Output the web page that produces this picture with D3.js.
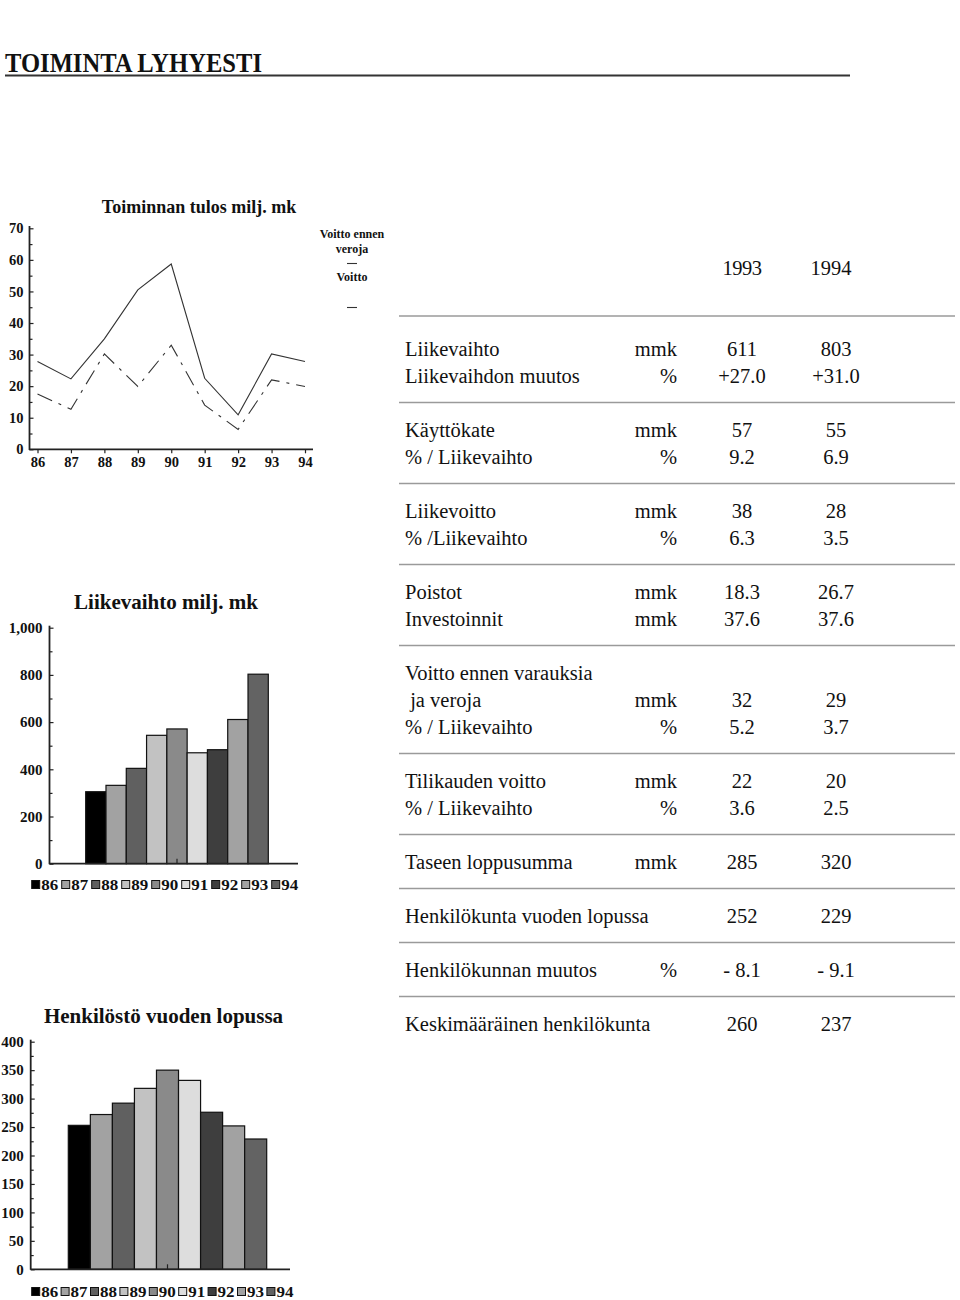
<!DOCTYPE html>
<html><head><meta charset="utf-8">
<script src="https://cdn.jsdelivr.net/npm/d3@7/dist/d3.min.js"></script>
<style>
body{margin:0;background:#fff}
svg text{font-family:"Liberation Serif","Times New Roman",serif;fill:#111}
</style>
</head><body>
<svg id="c" width="960" height="1300"></svg>
<script>
// ---------- data ----------
const years = ["86","87","88","89","90","91","92","93","94"];
const voittoEnnenVeroja = [27.8,22.3,35.0,50.5,58.7,22.5,10.9,30.2,27.8];
const voitto = [17.5,12.7,30.2,19.9,33.0,14.0,6.3,22.0,19.9];
const lineTicks = [0,10,20,30,40,50,60,70];
const lineMinorTicks = [5,15,25,35,45,55,65];
const lineLegend = ["Voitto ennen|veroja","Voitto"];

const liikevaihto = [305,332,404,544,571,470,483,611,803];
const liikevaihtoTicks = [0,200,400,600,800,1000];
const liikevaihtoMinor = [100,300,500,700,900];

const henkilosto = [253,272,292,318,350,332,276,252,229];
const henkilostoTicks = [0,50,100,150,200,250,300,350,400];
const henkilostoMinor = [25,75,125,175,225,275,325,375];

const barColors = ["#000000","#a2a2a2","#606060","#c2c2c2","#8a8a8a","#dddddd","#3e3e3e","#a2a2a2","#636363"];

const tableYears = ["1993","1994"];
const rowLabels = ["Liikevaihto","Liikevaihdon muutos","Käyttökate","% / Liikevaihto","Liikevoitto","% /Liikevaihto",
  "Poistot","Investoinnit","Voitto ennen varauksia"," ja veroja","% / Liikevaihto","Tilikauden voitto","% / Liikevaihto",
  "Taseen loppusumma","Henkilökunta vuoden lopussa","Henkilökunnan muutos","Keskimääräinen henkilökunta"];
const rowUnits = ["mmk","%","mmk","%","mmk","%","mmk","mmk","","mmk","%","mmk","%","mmk","","%",""];
const values1993 = ["611","+27.0","57","9.2","38","6.3","18.3","37.6","","32","5.2","22","3.6","285","252","- 8.1","260"];
const values1994 = ["803","+31.0","55","6.9","28","3.5","26.7","37.6","","29","3.7","20","2.5","320","229","- 9.1","237"];
const rowGroups = [0,0,1,1,2,2,3,3,4,4,4,5,5,6,7,8,9];

// ---------- drawing ----------
const svg = d3.select("#c");
const AX = "#222";
const DASH = "16,7,3,7";

// page title
svg.append("text").attr("x",5).attr("y",72).attr("font-size",27).attr("font-weight","bold")
  .attr("textLength",257).attr("lengthAdjust","spacingAndGlyphs").text("TOIMINTA LYHYESTI");
svg.append("line").attr("x1",5).attr("x2",850).attr("y1",75.5).attr("y2",75.5)
  .attr("stroke","#333").attr("stroke-width",2);

// ===== line chart =====
{
  const g = svg.append("g");
  const x = d3.scalePoint().domain(years).range([37.5,305]);
  const y = d3.scaleLinear().domain([0,70]).range([449.3,228.3]);
  g.append("text").attr("x",199).attr("y",213).attr("text-anchor","middle")
    .attr("font-size",18).attr("font-weight","bold").text("Toiminnan tulos milj. mk");
  const ya = g.append("g").attr("transform","translate(29.5,0)")
    .call(d3.axisLeft(y).tickValues(lineTicks).tickSize(-4).tickPadding(6));
  const yam = g.append("g").attr("transform","translate(29.5,0)")
    .call(d3.axisLeft(y).tickValues(lineMinorTicks).tickSize(-3).tickFormat(""));
  const xa = g.append("g").attr("transform","translate(0,449.3)")
    .call(d3.axisBottom(x).tickSize(4).tickPadding(3));
  [ya,yam,xa].forEach(a=>{a.select(".domain").remove();
    a.selectAll("line").attr("stroke",AX).attr("stroke-width",1.2);
    a.selectAll("text").attr("font-size",14.5).attr("font-weight","bold")
      .attr("font-family","Liberation Serif, serif").attr("fill","#111");});
  g.append("line").attr("x1",29.5).attr("x2",29.5).attr("y1",226).attr("y2",450).attr("stroke",AX).attr("stroke-width",1.8);
  g.append("line").attr("x1",29).attr("x2",313).attr("y1",449.3).attr("y2",449.3).attr("stroke",AX).attr("stroke-width",1.8);
  const line = d3.line().x((d,i)=>x(years[i])).y(d=>y(d));
  g.append("path").attr("d",line(voittoEnnenVeroja)).attr("fill","none").attr("stroke","#333").attr("stroke-width",1.1);
  g.append("path").attr("d",line(voitto)).attr("fill","none").attr("stroke","#333").attr("stroke-width",1.1)
    .attr("stroke-dasharray",DASH);
  // legend
  const lg = svg.append("g").attr("font-size",12).attr("font-weight","bold").attr("text-anchor","middle");
  const l1 = lineLegend[0].split("|");
  lg.append("text").attr("x",352).attr("y",238).text(l1[0]);
  lg.append("text").attr("x",352).attr("y",253).text(l1[1]);
  lg.append("line").attr("x1",347).attr("x2",357).attr("y1",263.5).attr("y2",263.5).attr("stroke","#333").attr("stroke-width",1.1);
  lg.append("text").attr("x",352).attr("y",281).text(lineLegend[1]);
  lg.append("line").attr("x1",347).attr("x2",357).attr("y1",307.5).attr("y2",307.5).attr("stroke","#333").attr("stroke-width",1.1)
    .attr("stroke-dasharray",DASH);
}

// ===== bar chart helper =====
function barChart(o){
  const g = svg.append("g");
  const x = d3.scaleBand().domain(years).range(o.xr).padding(0);
  const y = d3.scaleLinear().domain(o.domain).range(o.yr);
  g.append("text").attr("x",o.titleX).attr("y",o.titleY).attr("text-anchor","middle")
    .attr("font-size",21).attr("font-weight","bold").text(o.title);
  const ya = g.append("g").attr("transform",`translate(${o.axisX},0)`)
    .call(d3.axisLeft(y).tickValues(o.ticks).tickSize(-4).tickPadding(7).tickFormat(d3.format(",")));
  const yam = g.append("g").attr("transform",`translate(${o.axisX},0)`)
    .call(d3.axisLeft(y).tickValues(o.minor).tickSize(-3).tickFormat(""));
  [ya,yam].forEach(a=>{a.select(".domain").remove();
    a.selectAll("line").attr("stroke",AX).attr("stroke-width",1.2);
    a.selectAll("text").attr("font-size",15).attr("font-weight","bold")
      .attr("font-family","Liberation Serif, serif").attr("fill","#111");});
  g.selectAll("rect.bar").data(o.values).join("rect").attr("class","bar")
    .attr("x",(d,i)=>x(years[i])).attr("width",x.bandwidth())
    .attr("y",d=>y(d)).attr("height",d=>y(0)-y(d))
    .attr("fill",(d,i)=>barColors[i]).attr("stroke","#111").attr("stroke-width",1.2);
  const y0 = y(0);
  g.append("line").attr("x1",o.axisX).attr("x2",o.axisX).attr("y1",o.yr[1]-2).attr("y2",y0+0.5).attr("stroke",AX).attr("stroke-width",1.8);
  g.append("line").attr("x1",o.axisX).attr("x2",o.xEnd).attr("y1",y0).attr("y2",y0).attr("stroke",AX).attr("stroke-width",1.8);
  const mid = (o.xr[0]+o.xr[1])/2;
  g.append("line").attr("x1",mid).attr("x2",mid).attr("y1",y0).attr("y2",y0-5).attr("stroke",AX).attr("stroke-width",1.2);
  // legend
  const lg = g.append("g");
  years.forEach((yr,i)=>{
    const lx = o.legX + i*o.legStep;
    lg.append("rect").attr("x",lx).attr("y",o.legY).attr("width",8).attr("height",8)
      .attr("fill",barColors[i]).attr("stroke","#111").attr("stroke-width",1);
    lg.append("text").attr("x",lx+9.5).attr("y",o.legY+9).attr("font-size",15).attr("font-weight","bold")
      .attr("textLength",17).attr("lengthAdjust","spacingAndGlyphs").text(yr);
  });
}

barChart({title:"Liikevaihto milj. mk",titleX:166,titleY:609,values:liikevaihto,domain:[0,1000],
  yr:[863.7,627.7],xr:[85.7,268.3],axisX:49.5,xEnd:298,ticks:liikevaihtoTicks,minor:liikevaihtoMinor,
  legX:31.7,legStep:30,legY:880.5});
barChart({title:"Henkilöstö vuoden lopussa",titleX:163.5,titleY:1023,values:henkilosto,domain:[0,400],
  yr:[1269.3,1041.7],xr:[68.3,266.7],axisX:30.7,xEnd:290,ticks:henkilostoTicks,minor:henkilostoMinor,
  legX:31.7,legStep:29.4,legY:1287.5});

// ===== table =====
{
  const t = svg.append("g").attr("font-size",20.5);
  const rowY = i => 350 + 27*i + 27*rowGroups[i];
  const c1 = 742, c2 = 836;
  t.append("text").attr("x",c1).attr("y",275).attr("text-anchor","middle").attr("letter-spacing",-0.5).text(tableYears[0]);
  t.append("text").attr("x",c2-5).attr("y",275).attr("text-anchor","middle").text(tableYears[1]);
  const rules = [316];
  rowGroups.forEach((gq,i)=>{ if(i<rowGroups.length-1 && rowGroups[i+1]!==gq) rules.push(rowY(i)+25.5); });
  t.selectAll("line.rule").data(rules).join("line").attr("class","rule")
    .attr("x1",399).attr("x2",955).attr("y1",d=>d).attr("y2",d=>d)
    .attr("stroke","#9a9a9a").attr("stroke-width",1.6);
  rowLabels.forEach((lab,i)=>{
    const yy = rowY(i)+6;
    t.append("text").attr("x",405).attr("y",yy).style("white-space","pre").text(lab);
    if(rowUnits[i]) t.append("text").attr("x",677).attr("y",yy).attr("text-anchor","end").text(rowUnits[i]);
    if(values1993[i]) t.append("text").attr("x",c1).attr("y",yy).attr("text-anchor","middle").style("white-space","pre").text(values1993[i]);
    if(values1994[i]) t.append("text").attr("x",c2).attr("y",yy).attr("text-anchor","middle").style("white-space","pre").text(values1994[i]);
  });
}
</script>
</body></html>
